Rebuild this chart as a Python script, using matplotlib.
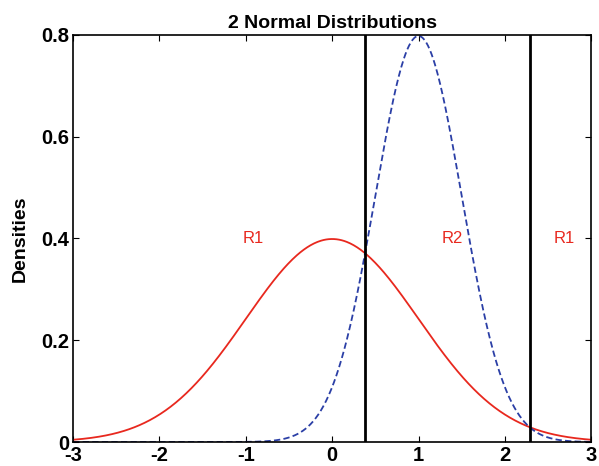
import numpy as np
import matplotlib
matplotlib.use("Agg")
import matplotlib.pyplot as plt

plt.rcParams['font.family'] = ['Liberation Sans', 'DejaVu Sans']

# distribution parameters (mean, std)
means = [0.0, 1.0]
stds = [1.0, 0.5]
# decision boundaries where the two densities cross
boundaries = [0.38, 2.29]
# region labels
region_text = ['R1', 'R2', 'R1']
region_x = [-1.04, 1.27, 2.57]
region_y = [0.4, 0.4, 0.4]

x = np.linspace(-3, 3, 601)


def normal_pdf(x, mu, sigma):
    return np.exp(-0.5 * ((x - mu) / sigma) ** 2) / (sigma * np.sqrt(2 * np.pi))


fig = plt.figure(figsize=(5.99, 4.66), dpi=100)
ax = fig.add_axes([0.122, 0.0515, 0.865, 0.8735])

ax.plot(x, normal_pdf(x, means[0], stds[0]), color='#e8281e', lw=1.3)
ax.plot(x, normal_pdf(x, means[1], stds[1]), color='#2b3fa6', lw=1.3, ls='--', dashes=(3.5, 1.8))
for b in boundaries:
    ax.axvline(b, color='black', lw=2)
for t, tx, ty in zip(region_text, region_x, region_y):
    ax.text(tx, ty, t, color='#e8281e', fontsize=12, ha='left', va='center')

ax.set_xlim(-3, 3)
ax.set_ylim(0, 0.8)
ax.set_xticks(np.arange(-3, 4, 1))
ax.set_yticks([0, 0.2, 0.4, 0.6, 0.8])
ax.set_xticklabels(['-3', '-2', '-1', '0', '1', '2', '3'])
ax.set_yticklabels(['0', '0.2', '0.4', '0.6', '0.8'])
ax.tick_params(direction='in', length=4, width=0.8, top=True, right=True,
               labelsize=14.5, pad=3)
for lab in ax.get_xticklabels() + ax.get_yticklabels():
    lab.set_fontweight('bold')
for s in ax.spines.values():
    s.set_linewidth(1.2)

ax.set_ylabel('Densities', fontsize=14, fontweight='bold', labelpad=9)
ax.set_title('2 Normal Distributions', fontsize=14, fontweight='bold', pad=5)

fig.savefig('out.png', dpi=100)
